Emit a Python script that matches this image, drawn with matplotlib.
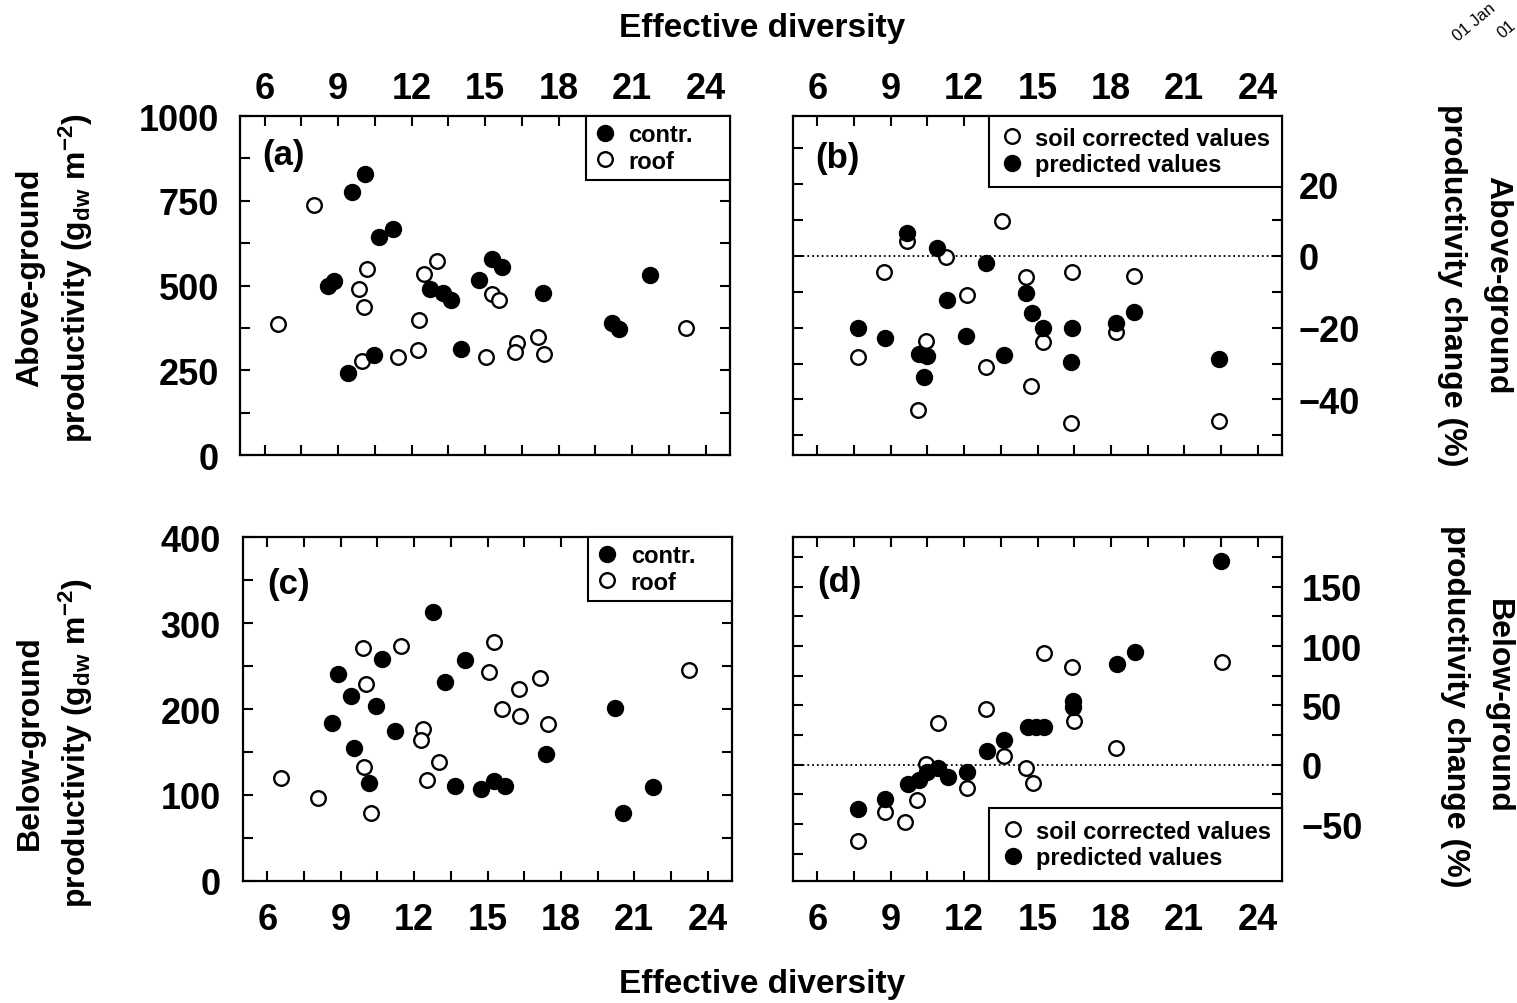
import matplotlib
matplotlib.use('Agg')

import numpy as np
import matplotlib.pyplot as plt
from matplotlib.ticker import MultipleLocator
from matplotlib.lines import Line2D

# ---- data ----
# (a) above-ground productivity (g_dw m-2)
a_contr_x = [9.56, 10.12, 8.58, 8.85, 10.66, 11.26, 9.42, 10.46, 12.75, 13.27,
             13.61, 14.76, 15.27, 15.71, 14.02, 17.35, 20.2, 20.47, 21.73]
a_contr_y = [776, 830, 498, 513, 644, 666, 243, 294, 491, 479,
             456, 515, 579, 555, 314, 477, 388, 373, 530]
a_roof_x = [8.04, 6.57, 10.18, 9.87, 10.05, 9.98, 11.43, 12.32, 12.28, 12.49,
            13.04, 15.28, 15.58, 15.04, 16.3, 16.22, 17.17, 17.41, 23.19]
a_roof_y = [737, 387, 550, 489, 437, 277, 289, 397, 309, 535,
            572, 476, 456, 289, 331, 304, 349, 297, 374]

# (b) above-ground productivity change (%)
b_soil_x = [9.66, 8.73, 11.26, 13.55, 12.12, 14.51, 16.41, 18.94, 10.44, 7.64,
            12.9, 15.22, 18.2, 14.74, 10.13, 16.38, 22.43]
b_soil_y = [4.2, -4.4, -0.2, 9.7, -11.0, -5.8, -4.6, -5.6, -23.7, -28.3,
            -31.1, -24.1, -21.3, -36.4, -43.0, -46.6, -45.9]
b_pred_x = [9.66, 10.89, 12.9, 11.29, 14.51, 14.77, 15.22, 16.41, 18.23, 18.94,
            7.64, 8.76, 10.14, 10.47, 10.34, 12.08, 13.61, 16.38, 22.43]
b_pred_y = [6.3, 2.1, -1.9, -12.3, -10.4, -15.8, -20.0, -20.0, -18.7, -15.6,
            -20.0, -22.9, -27.4, -28.0, -33.7, -22.3, -27.6, -29.7, -28.8]

# (c) below-ground productivity (g_dw m-2)
c_contr_x = [12.76, 8.88, 10.69, 9.43, 10.46, 14.07, 13.28, 8.65, 11.21, 9.54,
             10.15, 13.69, 14.73, 15.25, 15.73, 17.39, 20.22, 20.56, 21.76]
c_contr_y = [313, 241, 258, 215, 204, 257, 231, 184, 175, 155,
             114, 111, 107, 116, 111, 148, 201, 79, 109]
c_roof_x = [9.92, 11.47, 15.25, 10.05, 15.07, 17.16, 16.27, 15.59, 16.34, 17.46,
            12.37, 12.29, 13.01, 12.53, 9.95, 10.22, 6.54, 8.07, 23.25]
c_roof_y = [271, 273, 278, 229, 243, 236, 223, 200, 192, 182,
            177, 164, 138, 118, 133, 79, 120, 97, 245]

# (d) below-ground productivity change (%)
d_soil_x = [22.53, 15.26, 16.42, 16.48, 12.9, 10.95, 18.23, 13.65, 10.44, 14.54,
            14.81, 12.12, 10.06, 8.77, 9.59, 7.67]
d_soil_y = [87, 94, 82, 37, 47, 35, 14, 7, 1, -3,
            -15, -20, -30, -40, -48, -64]
d_pred_x = [22.5, 19.0, 18.25, 16.45, 16.45, 14.6, 14.92, 15.25, 13.65, 12.93,
            12.12, 11.33, 10.92, 10.5, 10.17, 9.69, 8.77, 7.67]
d_pred_y = [172, 95, 85, 54, 49, 32, 32, 32, 21, 11.5,
            -6, -10, -3, -6, -13, -16, -29, -37]

plt.rcParams.update({
    'font.family': ['Liberation Sans', 'DejaVu Sans'],
    'font.weight': 'bold',
    'axes.linewidth': 1.6,
    'mathtext.fontset': 'custom',
    'mathtext.rm': 'Liberation Sans:bold',
    'mathtext.bf': 'Liberation Sans:bold',
    'mathtext.it': 'Liberation Sans:bold',
    'mathtext.default': 'rm',
})

W, H = 1517, 1004
fig = plt.figure(figsize=(W / 100, H / 100), dpi=100)


def px_axes(left, top, right, bottom):
    return fig.add_axes([left / W, 1 - bottom / H, (right - left) / W, (bottom - top) / H])


def ftext(x, y, s, **kw):
    fig.text(x / W, 1 - y / H, s, **kw)


open_style = dict(ls='none', marker='o', ms=10.5, mfc='white', mec='black', mew=1.7)
fill_style = dict(ls='none', marker='o', ms=11.5, mfc='black', mec='black', mew=1.0)


def style_axes(ax, top_labels, right_labels, ymaj, ymin, ylim, xpad, ypad):
    ax.set_xlim(5, 25)
    ax.set_ylim(*ylim)
    ax.xaxis.set_major_locator(MultipleLocator(3))
    ax.xaxis.set_minor_locator(MultipleLocator(1.5))
    ax.yaxis.set_major_locator(MultipleLocator(ymaj))
    ax.yaxis.set_minor_locator(MultipleLocator(ymin))
    ax.tick_params(which='both', direction='in', top=True, bottom=True,
                   left=True, right=True, length=7, width=1.5)
    ax.tick_params(axis='x', labeltop=top_labels, labelbottom=not top_labels,
                   labelsize=26, pad=xpad)
    ax.tick_params(axis='y', labelleft=not right_labels, labelright=right_labels,
                   labelsize=26, pad=ypad)


def add_legend(ax, handles, labels, box, loc, bpad):
    # box = (x0, y0, w, h) in axes fraction; legend expands to the box width
    leg = ax.legend(handles, labels, loc=loc, bbox_to_anchor=box, mode='expand',
                    borderaxespad=0, fontsize=17, frameon=True, fancybox=False,
                    framealpha=1, edgecolor='black', handlelength=1.0,
                    handletextpad=0.5, borderpad=bpad, labelspacing=0.15,
                    numpoints=1)
    leg.get_frame().set_linewidth(1.5)


h_fill = Line2D([], [], **fill_style)
h_open = Line2D([], [], **open_style)

# (a)
ax_a = px_axes(240, 117, 730, 456)
ax_a.plot(a_roof_x, a_roof_y, **open_style)
ax_a.plot(a_contr_x, a_contr_y, **fill_style)
style_axes(ax_a, True, False, 250, 125, (0, 1000), 7, 15)
add_legend(ax_a, [h_fill, h_open], ['contr.', 'roof'],
           (0.706, 0, 0.294, 1), 'upper right', 0.3)
ax_a.text(22 / 490, 1 - 22 / 339, '(a)', transform=ax_a.transAxes,
          fontsize=25, ha='left', va='top')

# (b)
ax_b = px_axes(793, 117, 1282, 456)
ax_b.axhline(0, color='black', ls=':', lw=1.3)
ax_b.plot(b_soil_x, b_soil_y, **open_style)
ax_b.plot(b_pred_x, b_pred_y, **fill_style)
style_axes(ax_b, True, True, 20, 10, (-55.5, 39), 7, 12)
add_legend(ax_b, [h_open, h_fill], ['soil corrected values', 'predicted values'],
           (0.401, 0, 0.599, 1), 'upper right', 0.45)
ax_b.text(22 / 489, 1 - 25 / 339, '(b)', transform=ax_b.transAxes,
          fontsize=25, ha='left', va='top')

# (c)
ax_c = px_axes(243, 538, 732, 882)
ax_c.plot(c_roof_x, c_roof_y, **open_style)
ax_c.plot(c_contr_x, c_contr_y, **fill_style)
style_axes(ax_c, False, False, 100, 50, (0, 400), 15, 16)
add_legend(ax_c, [h_fill, h_open], ['contr.', 'roof'],
           (0.706, 0, 0.294, 1), 'upper right', 0.3)
ax_c.text(24 / 489, 1 - 30 / 344, '(c)', transform=ax_c.transAxes,
          fontsize=25, ha='left', va='top')

# (d)
ax_d = px_axes(793, 538, 1282, 882)
ax_d.axhline(0, color='black', ls=':', lw=1.3)
ax_d.plot(d_soil_x, d_soil_y, **open_style)
ax_d.plot(d_pred_x, d_pred_y, **fill_style)
style_axes(ax_d, False, True, 50, 25, (-98, 192), 15, 14)
add_legend(ax_d, [h_open, h_fill], ['soil corrected values', 'predicted values'],
           (0.401, 0, 0.599, 1), 'lower right', 0.5)
ax_d.text(24 / 489, 1 - 28 / 344, '(d)', transform=ax_d.transAxes,
          fontsize=25, ha='left', va='top')

# axis titles
ftext(762, 28, 'Effective diversity', fontsize=24, ha='center', va='center')
ftext(762, 985, 'Effective diversity', fontsize=24, ha='center', va='center')

ftext(30, 278, 'Above-ground', fontsize=23, rotation=90, ha='center', va='center')
ftext(76, 278, r'productivity (g$_{\mathrm{dw}}$ m$^{-2}$)', fontsize=23,
      rotation=90, ha='center', va='center')
ftext(30, 743, 'Below-ground', fontsize=23, rotation=90, ha='center', va='center')
ftext(76, 743, r'productivity (g$_{\mathrm{dw}}$ m$^{-2}$)', fontsize=23,
      rotation=90, ha='center', va='center')

ftext(1497, 285, 'Above-ground', fontsize=23, rotation=270, ha='center', va='center')
ftext(1452, 285, 'productivity change (%)', fontsize=23, rotation=270,
      ha='center', va='center')
ftext(1498, 706, 'Below-ground', fontsize=23, rotation=270, ha='center', va='center')
ftext(1455, 706, 'productivity change (%)', fontsize=23, rotation=270,
      ha='center', va='center')

# stray date labels in the top right corner of the source image
ftext(1474, 22, '01 Jan', fontsize=12, rotation=40, ha='center', va='center',
      fontweight='normal')
ftext(1507, 30, '01', fontsize=12, rotation=40, ha='center', va='center',
      fontweight='normal')

fig.savefig('out.png', dpi=100)
